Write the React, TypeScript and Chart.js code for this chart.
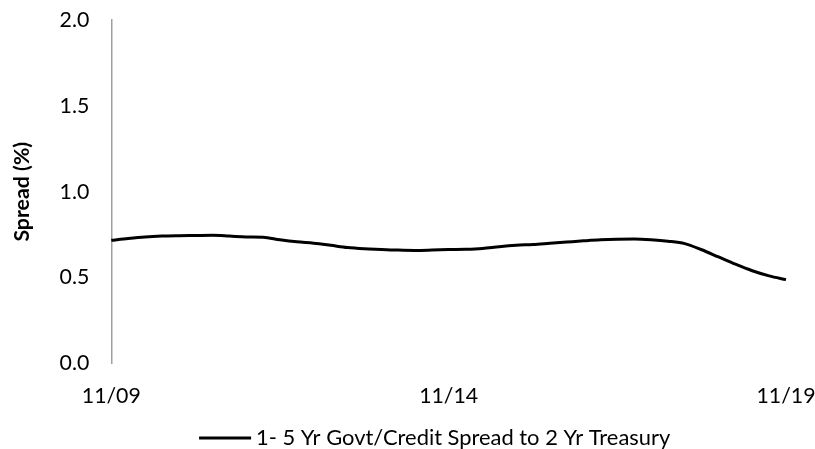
import React, { useEffect, useRef } from "react";
import { Chart, registerables } from "chart.js";

Chart.register(...registerables);

const FONT = "Lato, 'Open Sans', sans-serif";
const FONT_SIZE = 21.3;

// Quarterly observations, Nov 2009 through Nov 2019
const quarterLabels = [
  "11/09", "02/10", "05/10", "08/10", "11/10", "02/11", "05/11", "08/11",
  "11/11", "02/12", "05/12", "08/12", "11/12", "02/13", "05/13", "08/13",
  "11/13", "02/14", "05/14", "08/14", "11/14", "02/15", "05/15", "08/15",
  "11/15", "02/16", "05/16", "08/16", "11/16", "02/17", "05/17", "08/17",
  "11/17", "02/18", "05/18", "08/18", "11/18", "02/19", "05/19", "08/19",
  "11/19",
];

const spreadValues = [
  0.717, 0.728, 0.737, 0.742, 0.744, 0.745, 0.746, 0.742,
  0.737, 0.735, 0.72, 0.708, 0.7, 0.688, 0.675, 0.668,
  0.664, 0.66, 0.658, 0.66, 0.663, 0.665, 0.67, 0.68,
  0.688, 0.693, 0.7, 0.707, 0.714, 0.72, 0.723, 0.724,
  0.72, 0.712, 0.698, 0.662, 0.62, 0.578, 0.54, 0.51,
  0.488,
];

const shownTickLabels = ["11/09", "11/14", "11/19"];
const seriesName = "1- 5 Yr Govt/Credit Spread to 2 Yr Treasury";
const yAxisTitle = "Spread (%)";

// Draws the single-series legend (line swatch + label) below the x axis
const bottomLegend = {
  id: "bottomLegend",
  afterDraw(chart: any) {
    const ds = chart.data.datasets[0];
    const ctx = chart.ctx as CanvasRenderingContext2D;
    ctx.save();
    ctx.font = `${FONT_SIZE + 0.6}px ${FONT}`;
    const textW = ctx.measureText(ds.label).width;
    const swatchW = 52;
    const gap = 5;
    const total = swatchW + gap + textW;
    const cx = (chart.chartArea.left + chart.chartArea.right) / 2 - 14;
    const x0 = cx - total / 2;
    const y = chart.height - 11;
    ctx.strokeStyle = ds.borderColor;
    ctx.lineWidth = 3;
    ctx.beginPath();
    ctx.moveTo(x0, y);
    ctx.lineTo(x0 + swatchW, y);
    ctx.stroke();
    ctx.fillStyle = "#000";
    ctx.textBaseline = "middle";
    ctx.textAlign = "left";
    ctx.fillText(ds.label, x0 + swatchW + gap, y);
    ctx.restore();
  },
};

export default function App() {
  const canvasRef = useRef<HTMLCanvasElement | null>(null);

  useEffect(() => {
    if (!canvasRef.current) return;
    const chart = new Chart(canvasRef.current, {
      type: "line",
      data: {
        labels: quarterLabels,
        datasets: [
          {
            label: seriesName,
            data: spreadValues,
            borderColor: "#000000",
            backgroundColor: "#000000",
            borderWidth: 3,
            pointRadius: 0,
            tension: 0.4,
            cubicInterpolationMode: "monotone",
            fill: false,
          },
        ],
      },
      options: {
        responsive: false,
        animation: false,
        layout: { padding: { top: 0, right: 0, bottom: 20, left: 9 } },
        plugins: {
          legend: { display: false },
          tooltip: { enabled: false },
        },
        scales: {
          x: {
            type: "category",
            offset: false,
            grid: { display: false, drawTicks: false },
            border: { display: false },
            ticks: {
              autoSkip: false,
              maxRotation: 0,
              padding: 20,
              color: "#000",
              font: { family: FONT, size: FONT_SIZE },
              callback: (_v: any, i: number) =>
                shownTickLabels.includes(quarterLabels[i]) ? quarterLabels[i] : null,
            },
            // keep the plot running close to the right edge
            afterFit: (scale: any) => {
              scale.paddingLeft = 0;
              scale.paddingRight = 29;
            },
          },
          y: {
            min: 0,
            max: 2,
            grid: { display: false, drawTicks: false },
            border: { display: true, color: "#a0a0a0", width: 1.5 },
            ticks: {
              stepSize: 0.5,
              padding: 22,
              color: "#000",
              font: { family: FONT, size: FONT_SIZE },
              callback: (v: any) => Number(v).toFixed(1),
            },
            title: {
              display: true,
              text: yAxisTitle,
              color: "#000",
              font: { family: FONT, size: FONT_SIZE, weight: "bold" },
              padding: { top: 0, bottom: 3 },
            },
            afterFit: (scale: any) => {
              scale.paddingTop = 20;
              scale.paddingBottom = 0;
            },
          },
        },
      },
      plugins: [bottomLegend],
    });
    return () => chart.destroy();
  }, []);

  return (
    <div style={{ position: "absolute", left: 0, top: 0, width: 815, height: 449, background: "#fff" }}>
      <canvas ref={canvasRef} width={815} height={449} style={{ display: "block" }} />
    </div>
  );
}
